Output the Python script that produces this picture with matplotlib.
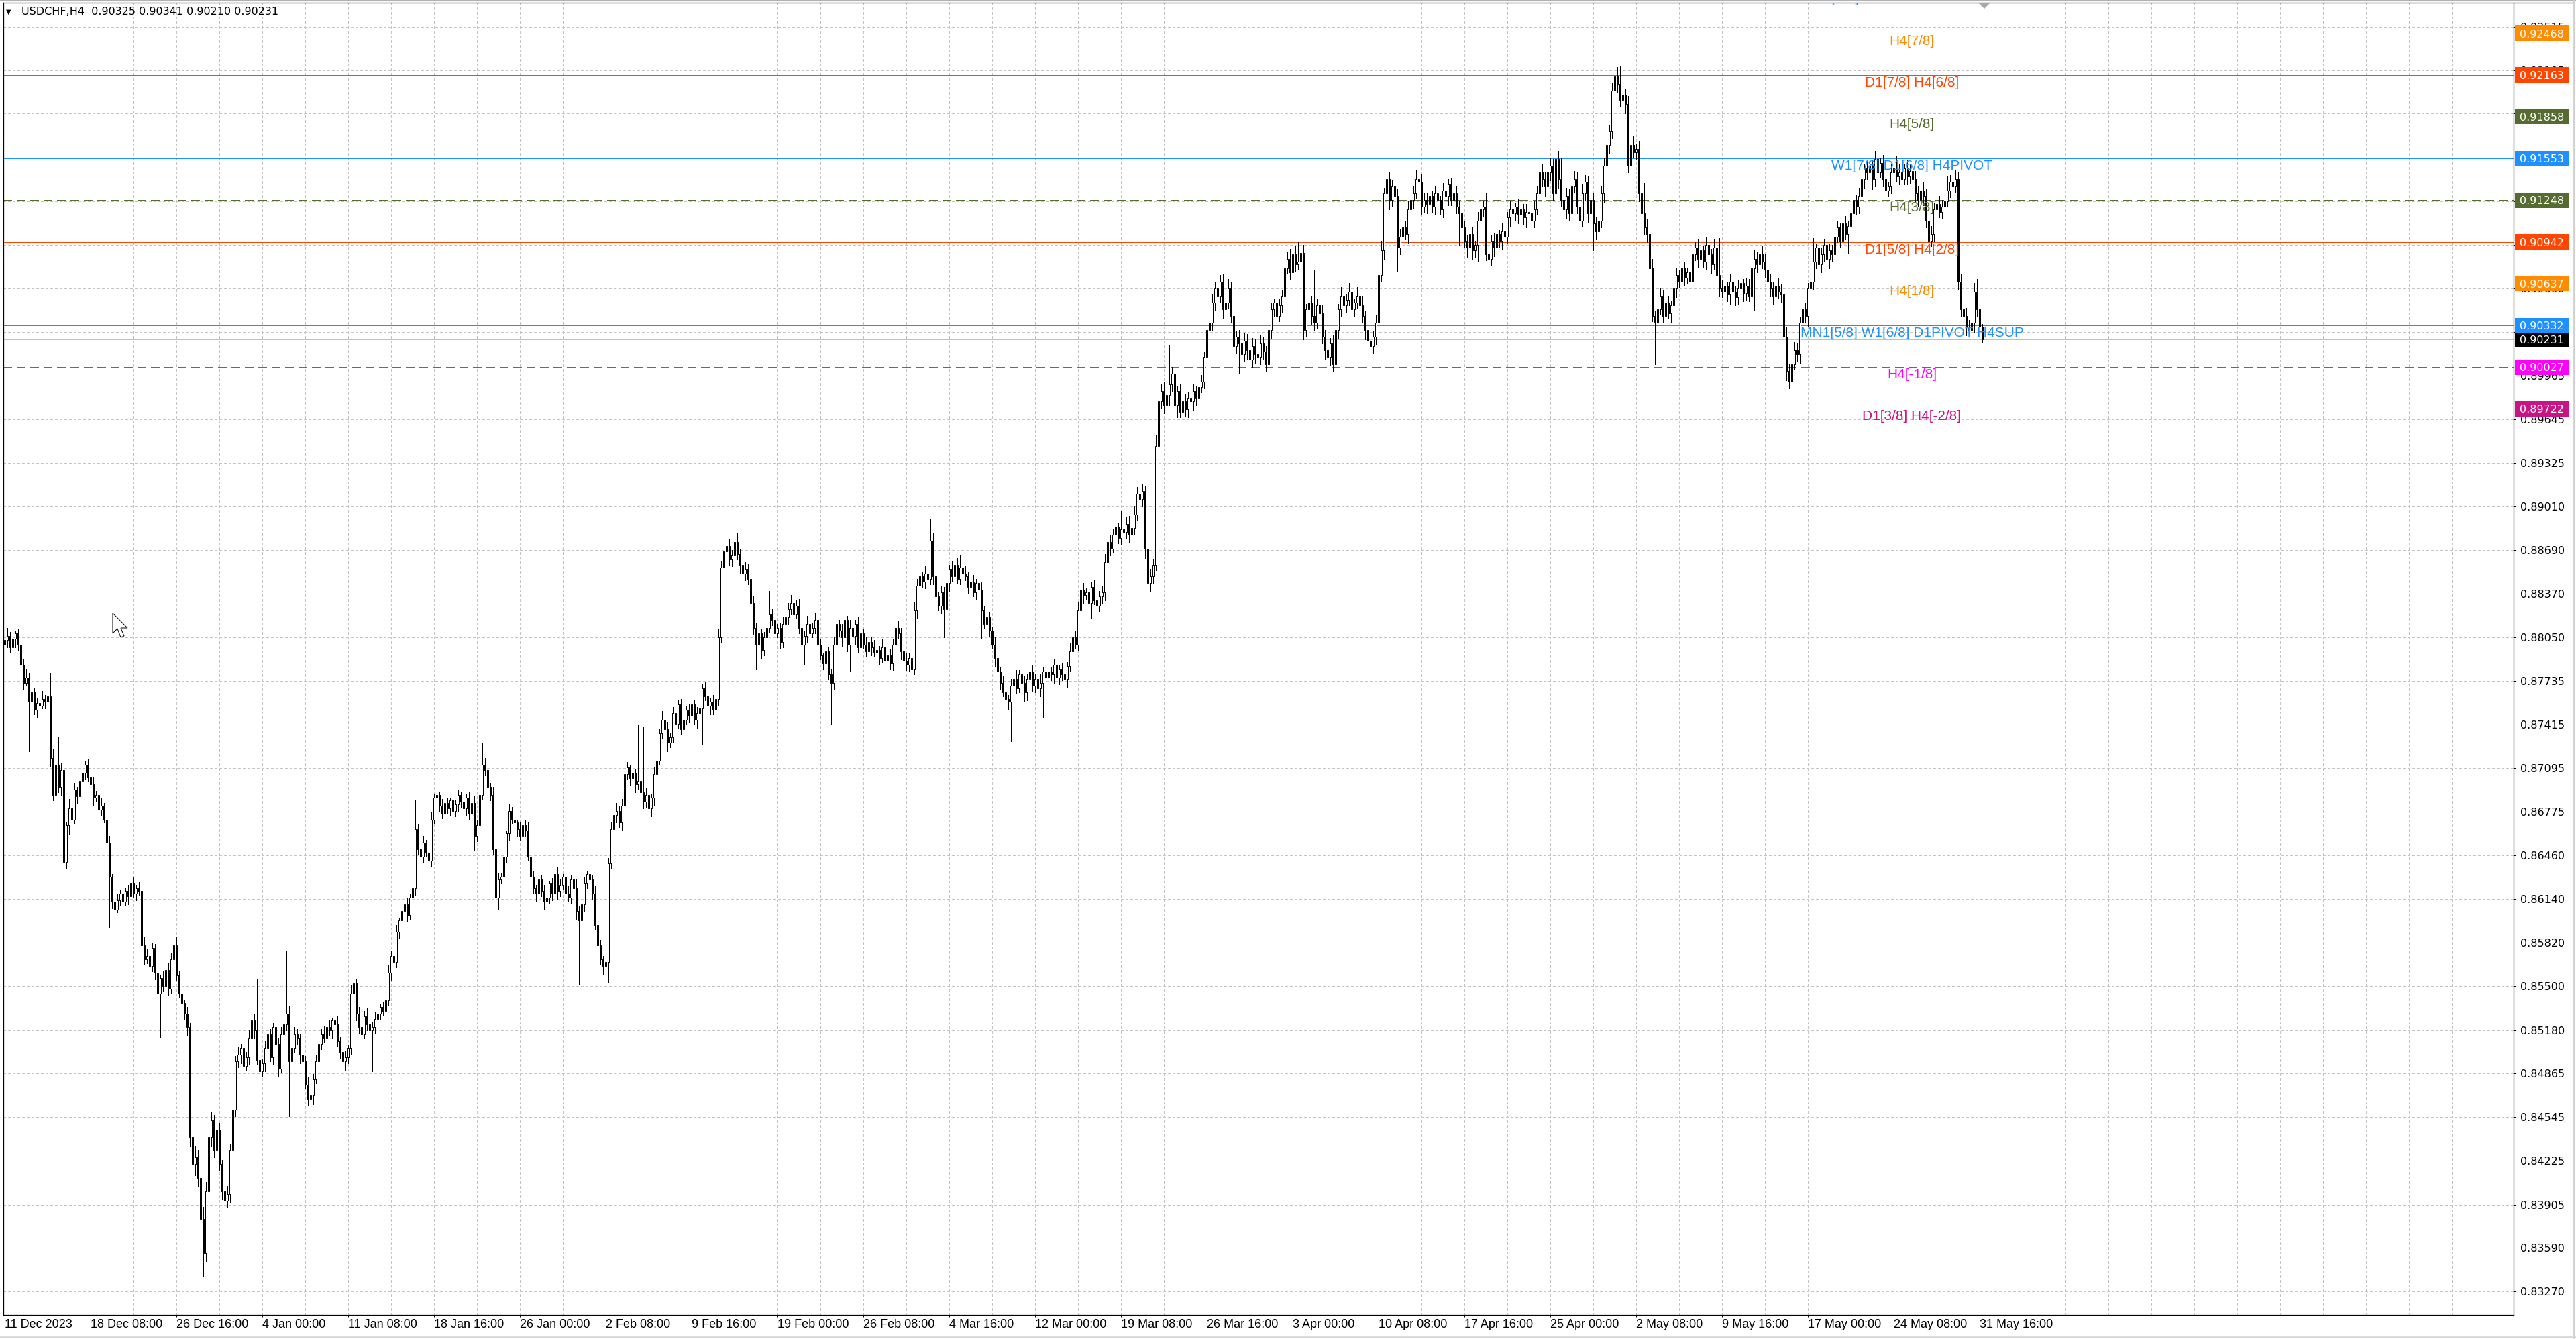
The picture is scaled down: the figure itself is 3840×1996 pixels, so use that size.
import numpy as np
import matplotlib
matplotlib.use("Agg")
import matplotlib.pyplot as plt
from matplotlib.transforms import blended_transform_factory
from matplotlib.patches import Rectangle, Polygon
from matplotlib.lines import Line2D

W, H = 3840, 1996

symbol = "USDCHF,H4"
first_open = 8800

# H4 closes in pips (0.0001), one per bar
closes = [
    8803, 8806, 8798, 8804, 8808, 8800, 8785, 8772, 8776, 8758,
    8765, 8752, 8757, 8755, 8760, 8758, 8762, 8717, 8690, 8712,
    8696, 8708, 8641, 8668, 8680, 8672, 8694, 8689, 8700, 8706,
    8712, 8703, 8698, 8688, 8690, 8679, 8682, 8672, 8655, 8630,
    8612, 8606, 8613, 8618, 8612, 8620, 8616, 8625, 8618, 8622,
    8620, 8580, 8570, 8572, 8565, 8578, 8560, 8545, 8556, 8550,
    8562, 8548, 8570, 8580, 8558, 8545, 8538, 8530, 8520, 8440,
    8420, 8425, 8410, 8380, 8355, 8400, 8440, 8452, 8430, 8445,
    8420, 8400, 8393, 8398, 8430, 8460, 8495, 8500, 8505, 8492,
    8498, 8512, 8525, 8518, 8496, 8488, 8494, 8505, 8515, 8498,
    8520, 8508, 8490, 8515, 8522, 8530, 8495, 8505, 8515, 8512,
    8500, 8495, 8478, 8468, 8470, 8482, 8495, 8508, 8515, 8512,
    8520, 8518, 8525, 8522, 8510, 8502, 8495, 8498, 8505, 8545,
    8552, 8530, 8520, 8515, 8528, 8522, 8518, 8520, 8526, 8530,
    8535, 8532, 8540, 8560, 8572, 8568, 8590, 8598, 8605, 8610,
    8602, 8615, 8622, 8665, 8650, 8645, 8655, 8648, 8642, 8672,
    8688, 8690, 8682, 8676, 8684, 8680, 8686, 8678, 8683, 8690,
    8685, 8680, 8688, 8676, 8684, 8660, 8668, 8690, 8712, 8708,
    8696, 8690, 8650, 8615, 8628, 8630, 8645, 8662, 8678, 8672,
    8670, 8665, 8660, 8668, 8664, 8645, 8630, 8622, 8618, 8628,
    8620, 8612, 8615, 8625, 8618, 8632, 8620, 8624, 8630, 8618,
    8615, 8628, 8622, 8605, 8598, 8610, 8625, 8632, 8628, 8618,
    8595, 8580, 8570, 8565, 8568, 8640, 8665, 8675, 8678, 8670,
    8682, 8705, 8710, 8702, 8706, 8698, 8700, 8692, 8685, 8690,
    8680, 8688, 8705, 8715, 8735, 8745, 8738, 8728, 8732, 8750,
    8742, 8756, 8738, 8745, 8752, 8748, 8756, 8745, 8750, 8753,
    8768, 8762, 8755, 8758, 8752, 8760, 8805, 8856, 8868, 8872,
    8862, 8865, 8875, 8866, 8858, 8852, 8855, 8848, 8830, 8812,
    8800, 8808, 8796, 8805, 8812, 8822, 8818, 8808, 8812, 8802,
    8815, 8820, 8826, 8830, 8822, 8828, 8812, 8800, 8806, 8815,
    8808, 8812, 8818, 8800, 8792, 8786, 8795, 8778, 8772, 8800,
    8815, 8810, 8805, 8818, 8800, 8812, 8806, 8815, 8798, 8808,
    8800, 8795, 8802, 8798, 8794, 8796, 8790, 8798, 8788, 8792,
    8786, 8800, 8812, 8808, 8795, 8788, 8785, 8790, 8782, 8825,
    8843, 8850, 8846, 8852, 8848, 8876, 8850, 8835, 8828, 8838,
    8826, 8845, 8855, 8850, 8858, 8848, 8856, 8852, 8850, 8842,
    8846, 8838, 8845, 8840, 8825, 8815, 8820, 8810, 8800, 8790,
    8780, 8772, 8765, 8760, 8758, 8770, 8775, 8768, 8778, 8772,
    8765, 8775, 8780, 8770, 8775, 8768, 8772, 8780, 8776, 8780,
    8778, 8785, 8776, 8782, 8778, 8775, 8784, 8795, 8805, 8800,
    8825, 8840, 8836, 8838, 8830, 8842, 8832, 8828, 8835, 8838,
    8860, 8875, 8870, 8880, 8886, 8878, 8884, 8882, 8888, 8880,
    8885, 8895, 8910, 8906, 8912, 8870, 8845, 8850, 8858, 8945,
    8978, 8985, 8975, 8982, 8990, 8998, 8975, 8985, 8970, 8978,
    8972, 8980, 8978, 8985, 8980, 8988, 8992, 9010, 9030, 9035,
    9050, 9060, 9055, 9065, 9045, 9050, 9060, 9040, 9018, 9025,
    9020, 9012, 9022, 9015, 9008, 9018, 9012, 9010, 9020, 9014,
    9005, 9030, 9045, 9050, 9040, 9048, 9055, 9075, 9082, 9072,
    9085, 9078, 9080, 9086, 9030, 9045, 9050, 9040, 9035, 9048,
    9042, 9025, 9015, 9010, 9020, 9005, 9030, 9045, 9055, 9048,
    9052, 9058, 9045, 9050, 9055, 9048, 9040, 9030, 9022, 9018,
    9025, 9035, 9070, 9088, 9130, 9140, 9125, 9135, 9128, 9090,
    9098, 9105, 9100, 9118, 9125, 9130, 9140, 9138, 9120, 9125,
    9122, 9128, 9120, 9130, 9125, 9118, 9132, 9128, 9136, 9125,
    9130, 9120, 9115, 9105, 9095, 9090, 9100, 9088, 9092, 9110,
    9118, 9120, 9085, 9082, 9095, 9090, 9100, 9095, 9102, 9098,
    9112, 9118, 9115, 9120, 9114, 9118, 9112, 9116, 9115, 9110,
    9118, 9130, 9145, 9140, 9135, 9145, 9150, 9130, 9155, 9140,
    9125, 9118, 9128, 9115, 9135, 9140, 9120, 9110, 9130, 9138,
    9115, 9125, 9108, 9102, 9110, 9130, 9150, 9165, 9175, 9205,
    9215, 9210, 9198, 9202, 9195, 9150, 9165, 9160, 9162, 9130,
    9115, 9105, 9100, 9075, 9040, 9035, 9045, 9055, 9040, 9050,
    9042, 9048, 9060, 9070, 9065, 9075, 9068, 9072, 9065, 9085,
    9090, 9082, 9088, 9080, 9092, 9085, 9078, 9090, 9070, 9060,
    9058, 9062, 9056, 9065, 9058, 9054, 9060, 9064, 9057, 9062,
    9055, 9075, 9082, 9078, 9085, 9080, 9074, 9065, 9060, 9055,
    9062, 9058, 9056, 9025, 9000, 8992, 9005, 9015, 9012, 9035,
    9045, 9040, 9060, 9065, 9080, 9090, 9078, 9085, 9092, 9082,
    9088, 9085, 9098, 9105, 9095, 9108, 9100, 9106, 9115, 9125,
    9120, 9128, 9140, 9148, 9145, 9150, 9140, 9155, 9145, 9152,
    9140, 9132, 9135, 9145, 9148, 9142, 9145, 9140, 9148, 9142,
    9146, 9140, 9130, 9125, 9132, 9128, 9110, 9095, 9100, 9118,
    9122, 9116, 9120, 9124, 9132, 9138, 9135, 9140, 9065, 9045,
    9040, 9032, 9030, 9035, 9058, 9045, 9032.5, 9023.1,
]

# wick lengths in pips above / below the candle body
upper_wicks = [
    4, 6, 3, 5, 2, 3, 5, 4, 6, 3,  5, 3, 4, 2, 6, 3, 4, 5, 7, 6,
    3, 5, 4, 2, 7, 3, 5, 2, 4, 6,  3, 4, 2, 5, 3, 4, 6, 2, 3, 5,
    2, 4, 5, 3, 6, 2, 4, 3, 5, 2,  4, 3, 6, 5, 2, 4, 3, 6, 2, 5,
    3, 5, 4, 2, 6, 3, 4, 2, 5, 3,  6, 8, 5, 4, 9, 7, 5, 6, 4, 8,
    5, 3, 4, 6, 5, 8, 4, 6, 3, 5,  4, 6, 3, 5, 4, 7, 3, 5, 2, 4,
    3, 6, 4, 5, 3, 4, 6, 3, 5, 4,  3, 5, 4, 6, 2, 4, 5, 3, 4, 6,
    3, 5, 2, 4, 6, 3, 4, 5, 2, 6,  4, 3, 5, 2, 4, 6, 3, 4, 5, 3,
    2, 4, 3, 6, 4, 3, 5, 2, 4, 3,  5, 3, 4, 6, 4, 3, 5, 2, 4, 5,
    3, 4, 2, 5, 3, 4, 2, 6, 3, 4,  2, 5, 3, 4, 2, 5, 4, 6, 3, 5,
    4, 3, 6, 4, 5, 3, 4, 2, 5, 3,  4, 2, 5, 3, 4, 6, 3, 4, 2, 5,
    3, 4, 5, 2, 4, 3, 5, 4, 2, 3,  5, 3, 4, 6, 4, 3, 5, 2, 4, 3,
    5, 3, 4, 2, 6, 4, 5, 3, 6, 4,  5, 3, 4, 2, 5, 3, 4, 6, 3, 5,
    4, 3, 5, 4, 3, 6, 4, 5, 3, 4,  5, 3, 4, 6, 3, 4, 5, 3, 4, 2,
    3, 5, 4, 3, 5, 4, 6, 5, 4, 3,  5, 4, 3, 6, 4, 3, 5, 4, 3, 5,
    4, 5, 3, 4, 6, 3, 4, 5, 3, 4,  5, 3, 4, 6, 3, 4, 5, 3, 4, 6,
    3, 4, 5, 3, 4, 2, 5, 3, 4, 5,  4, 3, 5, 4, 3, 6, 4, 3, 5, 4,
    3, 5, 4, 3, 5, 4, 3, 6, 4, 3,  5, 4, 3, 5, 4, 3, 6, 4, 3, 6,
    5, 4, 3, 5, 4, 6, 5, 4, 3, 5,  4, 5, 3, 6, 4, 5, 3, 4, 5, 3,
    4, 5, 3, 4, 6, 3, 5, 4, 3, 5,  4, 3, 5, 4, 3, 5, 4, 6, 3, 4,
    5, 3, 4, 5, 3, 4, 6, 3, 4, 5,  3, 4, 5, 3, 4, 5, 3, 6, 4, 5,
    6, 4, 5, 3, 6, 4, 5, 3, 4, 5,  6, 4, 5, 4, 6, 3, 5, 4, 5, 6,
    4, 6, 5, 7, 5, 4, 6, 5, 4, 8,  6, 5, 7, 4, 6, 5, 7, 4, 5, 6,
    5, 4, 6, 5, 4, 6, 5, 4, 7, 5,  6, 5, 7, 5, 6, 4, 7, 5, 6, 4,
    5, 4, 6, 5, 3, 6, 5, 4, 6, 5,  4, 6, 5, 3, 6, 5, 4, 6, 5, 7,
    5, 6, 4, 5, 6, 4, 7, 5, 6, 5,  4, 6, 5, 7, 4, 6, 5, 4, 6, 5,
    4, 6, 5, 3, 6, 5, 7, 4, 6, 5,  4, 6, 5, 7, 4, 6, 5, 4, 6, 5,
    6, 4, 5, 6, 4, 5, 7, 4, 6, 5,  5, 6, 4, 5, 6, 3, 5, 6, 4, 5,
    6, 5, 4, 6, 5, 4, 6, 5, 3, 6,  5, 4, 6, 5, 4, 6, 5, 3, 6, 5,
    4, 6, 5, 3, 6, 5, 4, 6, 5, 4,  6, 5, 4, 6, 5, 3, 6, 5, 4, 6,
    5, 4, 6, 5, 4, 6, 5, 3, 6, 5,  4, 6, 5, 4, 7, 5, 6, 4, 5, 6,
    5, 7, 6, 5, 4, 6, 5, 7, 4, 6,  5, 4, 6, 5, 7, 4, 6, 5, 4, 6,
    5, 3, 6, 5, 4, 6, 5, 3, 6, 5,  4, 6, 5, 3, 6, 5, 4, 6, 5, 4,
    6, 5, 3, 6, 5, 4, 6, 5, 3, 6,  5, 4, 6, 5, 3, 6, 5, 4, 6, 5,
    3, 6, 5, 4, 7, 5, 4, 6, 5, 4,  6, 5, 4, 6, 5, 3, 6, 5, 4, 6,
    5, 4, 6, 5, 3, 6, 5, 4, 6, 5,  4, 6, 5, 3, 6, 5, 4, 6, 5, 4,
    6, 5, 3, 6, 5, 4, 6, 5, 3, 6,  5, 4, 6, 5, 3, 6, 5, 4, 6, 5,
    4, 6, 5, 3, 6, 5, 4, 7, 5, 6,  4, 6, 5, 4, 6, 5, 4, 2,
]
lower_wicks = [
    3, 5, 4, 2, 6, 4, 3, 5, 2, 4,  6, 3, 5, 4, 2, 5, 3, 6, 4, 5,
    4, 6, 3, 5, 7, 4, 3, 5, 6, 3,  5, 3, 4, 6, 3, 5, 4, 2, 6, 4,
    5, 3, 2, 4, 5, 3, 6, 4, 3, 5,  3, 5, 4, 3, 6, 4, 5, 6, 3, 4,
    5, 4, 3, 6, 4, 3, 5, 4, 6, 7,  5, 8, 6, 7, 5, 6, 4, 7, 5, 6,
    4, 6, 5, 4, 6, 3, 5, 4, 6, 5,  3, 5, 4, 6, 3, 5, 4, 6, 4, 3,
    5, 4, 6, 3, 5, 4, 6, 5, 3, 4,  6, 4, 3, 5, 4, 6, 3, 5, 4, 3,
    5, 4, 6, 3, 4, 5, 3, 6, 4, 5,  3, 5, 4, 6, 3, 4, 5, 3, 4, 6,
    4, 3, 5, 4, 6, 3, 4, 5, 3, 4,  5, 3, 4, 5, 3, 6, 4, 3, 5, 4,
    3, 5, 4, 3, 6, 4, 5, 3, 4, 5,  4, 3, 5, 4, 6, 3, 4, 5, 3, 4,
    6, 4, 3, 5, 4, 3, 6, 4, 5, 3,  4, 5, 3, 6, 4, 3, 5, 4, 6, 3,
    4, 6, 3, 4, 5, 3, 6, 4, 3, 5,  3, 4, 5, 6, 3, 4, 5, 3, 6, 4,
    3, 5, 4, 6, 3, 5, 4, 3, 5, 4,  6, 3, 4, 5, 3, 6, 4, 3, 5, 4,
    3, 6, 4, 5, 3, 4, 5, 6, 3, 4,  5, 3, 4, 6, 3, 5, 4, 3, 6, 4,
    5, 3, 4, 6, 3, 4, 5, 3, 4, 6,  4, 5, 3, 4, 6, 3, 5, 4, 3, 5,
    4, 3, 6, 4, 5, 3, 4, 6, 3, 5,  4, 3, 5, 4, 6, 3, 4, 5, 3, 4,
    6, 3, 4, 5, 3, 4, 6, 3, 4, 5,  3, 4, 6, 3, 5, 4, 3, 6, 4, 5,
    3, 4, 5, 6, 3, 4, 5, 3, 4, 6,  4, 5, 3, 4, 6, 3, 4, 5, 3, 4,
    6, 3, 4, 5, 3, 4, 6, 4, 3, 5,  4, 3, 6, 4, 5, 3, 4, 6, 3, 5,
    4, 3, 5, 4, 6, 3, 5, 4, 3, 6,  4, 5, 3, 4, 6, 3, 5, 4, 3, 5,
    4, 6, 3, 4, 5, 3, 6, 4, 5, 3,  4, 6, 3, 5, 4, 3, 6, 4, 5, 3,
    4, 5, 6, 3, 4, 5, 3, 6, 4, 5,  6, 4, 5, 3, 6, 4, 5, 6, 4, 5,
    6, 5, 4, 6, 5, 7, 4, 6, 5, 4,  7, 5, 6, 4, 7, 5, 6, 5, 4, 6,
    5, 6, 4, 7, 5, 6, 4, 5, 6, 7,  5, 6, 4, 5, 7, 6, 4, 5, 6, 5,
    4, 6, 5, 7, 4, 5, 6, 4, 5, 6,  5, 4, 6, 5, 7, 4, 5, 6, 4, 5,
    6, 5, 4, 6, 7, 5, 4, 6, 5, 4,  6, 5, 7, 4, 6, 5, 4, 6, 5, 7,
    5, 4, 6, 5, 4, 6, 5, 7, 4, 6,  5, 6, 4, 5, 6, 4, 7, 5, 6, 4,
    5, 6, 4, 7, 5, 6, 4, 5, 6, 4,  7, 5, 4, 6, 5, 4, 6, 5, 7, 4,
    6, 5, 4, 6, 5, 7, 4, 6, 5, 4,  6, 5, 4, 7, 5, 6, 4, 5, 6, 4,
    5, 6, 4, 5, 6, 4, 5, 7, 4, 6,  5, 4, 6, 5, 7, 4, 6, 5, 4, 6,
    5, 4, 7, 5, 6, 4, 5, 6, 4, 5,  6, 4, 5, 6, 4, 5, 7, 4, 6, 5,
    4, 6, 5, 4, 7, 5, 6, 4, 5, 6,  4, 5, 6, 7, 4, 5, 6, 4, 5, 6,
    4, 7, 5, 6, 4, 5, 6, 4, 5, 7,  4, 6, 5, 4, 6, 5, 7, 4, 6, 5,
    4, 6, 5, 7, 4, 6, 5, 4, 6, 5,  4, 7, 5, 6, 4, 5, 6, 4, 5, 6,
    4, 5, 6, 4, 7, 5, 6, 4, 5, 6,  4, 5, 7, 4, 6, 5, 4, 6, 5, 4,
    7, 5, 6, 4, 5, 6, 4, 5, 7, 4,  6, 5, 4, 6, 5, 4, 7, 5, 6, 4,
    5, 6, 4, 5, 7, 4, 6, 5, 4, 6,  5, 4, 6, 5, 4, 7, 5, 6, 4, 5,
    6, 4, 5, 6, 4, 5, 7, 4, 6, 5,  4, 6, 5, 4, 7, 5, 6, 3,
]

# long wicks that stand out on the chart (bar index -> price in pips)
spike_highs = {3: 8816, 17: 8779, 20: 8732, 51: 8633, 79: 8450, 94: 8555,
               105: 8576, 130: 8566, 153: 8686, 178: 8728, 236: 8741,
               238: 8740, 268: 8875, 272: 8885, 285: 8839, 319: 8822,
               345: 8892, 356: 8865, 388: 8794, 416: 8898, 423: 8918,
               434: 9019, 453: 9070, 482: 9094, 488: 9074, 518: 9144,
               531: 9150, 552: 9130, 573: 9151, 580: 9156, 602: 9223,
               611: 9137, 639: 9097, 657: 9101, 674: 9097, 695: 9157,
               705: 9157, 724: 9142, 735: 9067, 737: 9034.1}
spike_lows = {9: 8722, 22: 8631, 39: 8593, 58: 8513, 74: 8338, 76: 8333,
              82: 8356, 106: 8455, 137: 8488, 175: 8649, 184: 8606,
              214: 8551, 225: 8553, 242: 8682, 260: 8727, 280: 8782,
              298: 8785, 308: 8742, 315: 8780, 350: 8805, 364: 8804,
              375: 8729, 380: 8758, 387: 8747, 405: 8819, 411: 8821,
              426: 8838, 437: 8966, 460: 8998, 496: 8997, 508: 9012,
              519: 9073, 542: 9092, 549: 9080, 553: 9009, 568: 9085,
              584: 9095, 592: 9088, 615: 9005, 622: 9035, 652: 9044,
              666: 8987, 687: 9086, 717: 9092, 732: 9025, 736: 9002,
              737: 9021.0}

time_labels = ["11 Dec 2023", "18 Dec 08:00", "26 Dec 16:00", "4 Jan 00:00",
               "11 Jan 08:00", "18 Jan 16:00", "26 Jan 00:00", "2 Feb 08:00",
               "9 Feb 16:00", "19 Feb 00:00", "26 Feb 08:00", "4 Mar 16:00",
               "12 Mar 00:00", "19 Mar 08:00", "26 Mar 16:00", "3 Apr 00:00",
               "10 Apr 08:00", "17 Apr 16:00", "25 Apr 00:00", "2 May 08:00",
               "9 May 16:00", "17 May 00:00", "24 May 08:00", "31 May 16:00"]
bars_per_label = 32

y_ticks = [0.83270, 0.83590, 0.83905, 0.84225, 0.84545, 0.84865, 0.85180,
           0.85500, 0.85820, 0.86140, 0.86460, 0.86775, 0.87095, 0.87415,
           0.87735, 0.88050, 0.88370, 0.88690, 0.89010, 0.89325, 0.89645,
           0.89965, 0.90285, 0.90600, 0.90920, 0.91240, 0.91560, 0.91880,
           0.92195, 0.92515]

level_prices = [0.92468, 0.92163, 0.91858, 0.91553, 0.91248, 0.90942,
                0.90637, 0.90332, 0.90027, 0.89722]
level_names = ["H4[7/8]", "D1[7/8] H4[6/8]", "H4[5/8]",
               "W1[7/8] D1[6/8] H4PIVOT", "H4[3/8]", "D1[5/8] H4[2/8]",
               "H4[1/8]", "MN1[5/8] W1[6/8] D1PIVOT H4SUP", "H4[-1/8]",
               "D1[3/8] H4[-2/8]"]
level_colors = ["#FF8C00", "#FF4500", "#556B2F", "#1E90FF", "#556B2F",
                "#FF4500", "#FF8C00", "#1E90FF", "#FF00FF", "#C71585"]
level_dashed = [True, False, True, False, True, False, True, False, True, False]
level_px = [1, 1, 1, 1, 1, 1, 1, 2, 1, 1]

top_level = 0.92773
top_name = "MN1[6/8] W1RES D1RES1 H4RES"

# ---- OHLC ----
c = np.array(closes, dtype=float) / 10000
o = np.concatenate([[first_open / 10000], c[:-1]])
hi = np.maximum(o, c) + np.array(upper_wicks) / 10000
lo = np.minimum(o, c) - np.array(lower_wicks) / 10000
for k, v in spike_highs.items():
    hi[k] = v / 10000
for k, v in spike_lows.items():
    lo[k] = v / 10000
x = np.arange(len(c))

# ---- figure ----
fig = plt.figure(figsize=(W / 100, H / 100), dpi=100)
fig.patch.set_facecolor("white")
ax = fig.add_axes([5 / W, (H - 1960) / H, (3747 - 5) / W, (1960 - 4) / H])
ylo, yhi = 0.830984, 0.926915
ax.set_xlim(-0.5, 935.0)
ax.set_ylim(ylo, yhi)
dpp = (yhi - ylo) / 1956.0  # price per pixel

grid_kw = dict(colors="#c4c4c4", linewidth=0.72, linestyles=(0, (4, 3)),
               zorder=0, antialiased=False)
ax.vlines(np.arange(16, 936, 16), ylo, yhi, **grid_kw)
ax.hlines(y_ticks, -0.5, 935.0, **grid_kw)

# levels
for p, col, dashed, w in zip(level_prices, level_colors, level_dashed, level_px):
    ls = (0, (13, 7)) if dashed else "-"
    ax.axhline(p, color=col, lw=0.72 * w, ls=ls, zorder=1, antialiased=False)
ax.axhline(c[-1], color="#c0c0c0", lw=0.72, zorder=1, antialiased=False)

# candles
ax.vlines(x, lo, hi, colors="black", linewidth=0.72, zorder=3,
          antialiased=False)
up = c >= o
ax.bar(x, np.maximum(np.abs(c - o), 0.000008), bottom=np.minimum(o, c),
       width=0.55, color=np.where(up, "white", "black"), edgecolor="black",
       linewidth=0.72, zorder=4)

# level captions
tr = blended_transform_factory(fig.transFigure, ax.transData)
lab_font = ["Liberation Sans", "DejaVu Sans"]
for p, name, col in zip(level_prices, level_names, level_colors):
    ax.text(2850 / W, p - 2 * dpp, name, transform=tr, ha="center", va="top",
            color=col, fontsize=15, family=lab_font, zorder=5)
ax.text(2850 / W, top_level - 2 * dpp, top_name, transform=tr, ha="center",
        va="top", color="#1E90FF", fontsize=15, family=lab_font, zorder=5,
        clip_on=True)

# right side price boxes
def price_box(p, col, z):
    ax.add_patch(Rectangle((3749 / W, p - 11.5 * dpp), 80 / W, 23 * dpp,
                           transform=tr, facecolor=col, edgecolor="none",
                           clip_on=False, zorder=z))
    ax.text(3756 / W, p, f"{p:.5f}", transform=tr, ha="left",
            va="center_baseline", color="white", fontsize=11.5,
            clip_on=False, zorder=z + 0.05)

price_box(c[-1], "black", 6)
for i, (p, col) in enumerate(zip(level_prices, level_colors)):
    price_box(p, col, 7 + i * 0.1)

# axes / ticks
ax.yaxis.tick_right()
ax.set_yticks(y_ticks)
ax.set_yticklabels([f"{v:.5f}" for v in y_ticks])
ax.tick_params(axis="y", direction="out", length=2.5, width=0.72, pad=4.5,
               labelsize=11.5, colors="black")
ax.set_xticks(np.arange(len(time_labels)) * bars_per_label)
ax.set_xticklabels(time_labels)
ax.tick_params(axis="x", direction="out", length=2.5, width=0.72, pad=2)
for t in ax.get_xticklabels():
    t.set_ha("left")
    t.set_family(["Liberation Sans", "DejaVu Sans"])
    t.set_fontsize(13)
for s in ax.spines.values():
    s.set_color("black")
    s.set_linewidth(0.9)

# header
o_last, h_last, l_last, c_last = o[-1], hi[-1], lo[-1], c[-1]
header = f"{symbol}  {o_last:.5f} {h_last:.5f} {l_last:.5f} {c_last:.5f}"
fig.text(32 / W, 1 - 18 / H, header, ha="left", va="center", fontsize=11.5,
         color="black")
fig.text(13 / W, 1 - 18 / H, "\u25bc", ha="center", va="center", fontsize=7,
         color="black")

def to_fig(pts):
    return [(px / W, 1 - py / H) for px, py in pts]

# shift marker at the top and the mouse cursor
fig.add_artist(Polygon(to_fig([(2949, 4), (2967, 4), (2958, 13)]),
                       closed=True, facecolor="#a8a8a8", edgecolor="none",
                       transform=fig.transFigure))
tip = (168, 914)
cursor = [(0, 0), (0, 30), (7, 23), (12, 36), (17, 34), (12, 22), (22, 22)]
fig.add_artist(Polygon(to_fig([(tip[0] + a, tip[1] + b) for a, b in cursor]),
                       closed=True, facecolor="white", edgecolor="black",
                       linewidth=0.72, transform=fig.transFigure))

# window frame
fig.add_artist(Line2D([3747 / W, 3836 / W], [1 - 4 / H, 1 - 4 / H],
                      color="black", lw=0.9, transform=fig.transFigure))
fig.add_artist(Line2D([0, 1], [1 - 1 / H, 1 - 1 / H], color="#b0b0b0",
                      lw=1.5, transform=fig.transFigure))
fig.add_artist(Line2D([3837 / W, 3837 / W], [0, 1], color="#d0d0d0",
                      lw=2, transform=fig.transFigure))
fig.add_artist(Line2D([0, 1], [1 - 1993 / H, 1 - 1993 / H], color="#d8d8d8",
                      lw=2, transform=fig.transFigure))

fig.savefig("out.png", dpi=100)
